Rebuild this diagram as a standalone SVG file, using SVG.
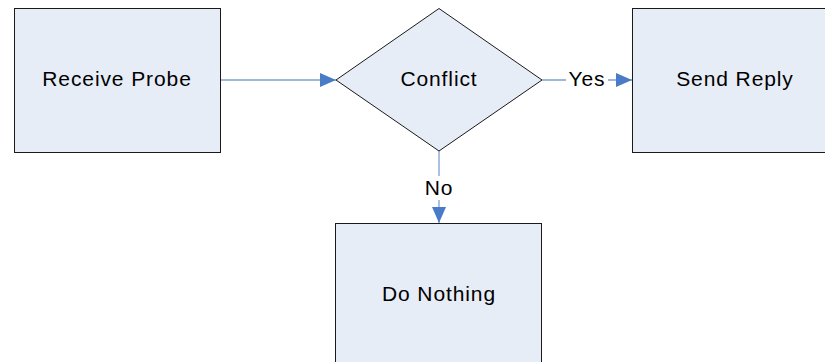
<svg xmlns="http://www.w3.org/2000/svg" width="825" height="362" viewBox="0 0 825 362">
<style>
.node{fill:#E7EDF7;stroke:#1a1a1a;stroke-width:1}
.lbl{font-family:"Liberation Sans",Arial,sans-serif;font-size:21px;letter-spacing:0.9px;fill:#000;text-anchor:middle}
.edge{stroke:#7E9FD4;stroke-width:1.3;fill:none}
.head{fill:#4A7BC6}
</style>
<defs>
<marker id="arr" viewBox="0 0 16 14" refX="16" refY="7" markerWidth="16" markerHeight="14" markerUnits="userSpaceOnUse" orient="auto">
<path class="head" d="M0,0 L16,7 L0,14 Z"/>
</marker>
</defs>
<rect width="825" height="362" fill="#fff"/>
<g id="connectors">
<line class="edge" x1="220" y1="80" x2="336" y2="80" marker-end="url(#arr)"/>
<line class="edge" x1="542" y1="80" x2="632" y2="80" marker-end="url(#arr)"/>
<rect x="566" y="68" width="42" height="24" fill="#fff"/>
<text class="lbl" x="587" y="86">Yes</text>
<line class="edge" x1="439" y1="151" x2="439" y2="223" marker-end="url(#arr)"/>
<rect x="424" y="176" width="30" height="24" fill="#fff"/>
<text class="lbl" x="439" y="195">No</text>
</g>
<g id="receive-probe">
<rect class="node" x="14.5" y="8.5" width="206" height="144"/>
<text class="lbl" x="117" y="86">Receive Probe</text>
</g>
<g id="conflict">
<polygon class="node" points="439,8.5 542,80 439,151 336,80"/>
<text class="lbl" x="439" y="86">Conflict</text>
</g>
<g id="send-reply">
<rect class="node" x="632.5" y="8.5" width="206" height="144"/>
<text class="lbl" x="735" y="86">Send Reply</text>
</g>
<g id="do-nothing">
<rect class="node" x="335.5" y="223.5" width="206" height="144"/>
<text class="lbl" x="439" y="301">Do Nothing</text>
</g>
</svg>
